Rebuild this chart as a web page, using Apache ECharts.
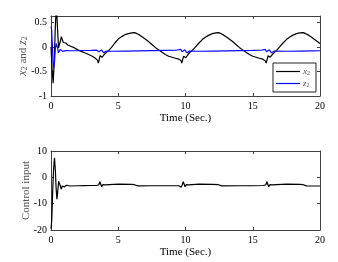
<!DOCTYPE html>
<html>
<head>
<meta charset="utf-8">
<script src="https://cdn.jsdelivr.net/npm/echarts@6/dist/echarts.min.js"></script>
<style>html,body{margin:0;padding:0;background:#fff;}#c{width:338px;height:262px;}</style>
</head>
<body>
<div id="c"></div>
<script>
// ---- data ----
var xTicks = [0, 5, 10, 15, 20];
var y1Ticks = [-1, -0.5, 0, 0.5];
var y2Ticks = [-20, -10, 0, 10];

var x2T = [0,0.08,0.16,0.24,0.32,0.4,0.48,0.56,0.62,0.7,0.77,0.85,0.92,1.0,1.1,1.25,1.5,1.75,2.0,2.25,2.5,2.75,3.0,3.25,3.45,3.52,3.58,3.65,3.72,3.8,3.9,4.0,4.1,4.3,4.5,4.75,5.0,5.25,5.5,5.75,6.0,6.2,6.4,6.6,6.8,7.0,7.25,7.5,7.75,8.0,8.25,8.5,8.75,9.0,9.25,9.5,9.65,9.72,9.78,9.86,9.94,10.02,10.12,10.22,10.35,10.5,10.75,11.0,11.25,11.5,11.75,12.0,12.25,12.45,12.65,12.85,13.05,13.25,13.5,13.75,14.0,14.25,14.5,14.75,15.0,15.25,15.5,15.75,15.92,16.0,16.06,16.14,16.22,16.3,16.4,16.5,16.65,16.8,17.0,17.25,17.5,17.75,18.0,18.25,18.5,18.75,18.95,19.15,19.35,19.55,19.8,20.0];
var x2V = [0,-0.45,-0.74,-0.3,0.4,0.85,0.4,-0.02,-0.05,0.12,0.21,0.14,0.09,0.11,0.08,0.04,0.01,-0.02,-0.06,-0.09,-0.12,-0.15,-0.18,-0.22,-0.27,-0.33,-0.3,-0.18,-0.16,-0.21,-0.19,-0.14,-0.12,-0.07,-0.01,0.08,0.16,0.21,0.25,0.27,0.285,0.29,0.27,0.24,0.2,0.16,0.11,0.05,-0.01,-0.06,-0.11,-0.155,-0.19,-0.21,-0.23,-0.25,-0.27,-0.33,-0.31,-0.19,-0.17,-0.22,-0.19,-0.14,-0.11,-0.07,0.0,0.08,0.15,0.2,0.24,0.27,0.285,0.29,0.27,0.24,0.2,0.16,0.11,0.05,-0.01,-0.06,-0.11,-0.155,-0.19,-0.21,-0.23,-0.25,-0.28,-0.33,-0.3,-0.18,-0.16,-0.21,-0.19,-0.14,-0.1,-0.06,0.0,0.08,0.15,0.2,0.24,0.27,0.285,0.29,0.27,0.24,0.2,0.16,0.11,0.07];

var z2T = [0,0.05,0.1,0.15,0.2,0.26,0.32,0.38,0.43,0.49,0.55,0.62,0.7,0.78,0.86,0.95,1.1,1.5,2,2.5,3,3.4,3.48,3.56,3.63,3.7,3.76,3.84,3.92,4.0,4.1,4.5,5.5,6.5,7.5,8.5,9.3,9.66,9.74,9.81,9.88,9.95,10.03,10.11,10.19,10.3,11,12,13,14,15,15.6,15.94,16.02,16.09,16.16,16.23,16.31,16.39,16.47,16.6,17.5,18.5,19.5,20];
var z2V = [0.42,0.35,0.05,-0.3,-0.43,-0.3,-0.05,0.07,0.08,-0.02,-0.12,-0.1,-0.05,-0.07,-0.09,-0.08,-0.075,-0.078,-0.076,-0.073,-0.07,-0.066,-0.05,-0.1,-0.13,-0.1,-0.06,-0.09,-0.12,-0.1,-0.085,-0.088,-0.084,-0.08,-0.076,-0.072,-0.068,-0.05,-0.1,-0.13,-0.1,-0.06,-0.09,-0.12,-0.1,-0.085,-0.088,-0.084,-0.08,-0.076,-0.072,-0.068,-0.05,-0.1,-0.13,-0.1,-0.06,-0.09,-0.12,-0.1,-0.085,-0.088,-0.084,-0.08,-0.078];

var uT = [0,0.06,0.12,0.19,0.26,0.32,0.38,0.44,0.5,0.57,0.62,0.69,0.76,0.84,0.92,1.0,1.08,1.16,1.25,1.4,2,2.5,3,3.4,3.48,3.56,3.63,3.7,3.77,3.85,3.93,4.02,4.12,5,6,6.2,6.3,6.45,7.5,8.5,9.5,9.6,9.68,9.76,9.83,9.9,9.97,10.05,10.13,10.22,10.32,11,12,12.45,12.55,12.7,14,15,15.8,15.9,15.98,16.05,16.12,16.19,16.27,16.35,16.44,16.54,17.5,18.5,18.75,18.85,19.0,20];
var uV = [-19.5,-16,-6,3,7.4,3,-4,-8.3,-5.5,-1.5,-1.2,-3.2,-4.5,-3.3,-2.6,-3.6,-3.7,-3.0,-3.3,-3.3,-3.2,-3.15,-3.1,-3.1,-3.8,-2.8,-1.7,-2.6,-3.6,-2.8,-2.3,-2.9,-2.6,-2.6,-2.7,-2.8,-3.3,-3.25,-3.2,-3.2,-3.2,-3.1,-3.8,-2.8,-1.7,-2.6,-3.6,-2.8,-2.3,-2.9,-2.6,-2.6,-2.7,-2.8,-3.3,-3.25,-3.2,-3.2,-3.1,-3.8,-2.8,-1.7,-2.6,-3.6,-2.8,-2.3,-2.9,-2.6,-2.6,-2.7,-2.8,-3.3,-3.25,-3.3];

function pairs(t, v) { return t.map(function (x, i) { return [x, v[i]]; }); }

var FONT = 'Liberation Serif';
var AX = '#404040';
function xAx(gi, pos, show) {
  return {
    type: 'value', gridIndex: gi, position: pos, min: 0, max: 20, interval: 5,
    axisLine: { show: true, onZero: false, lineStyle: { color: AX, width: 1 } },
    axisTick: { show: true, inside: true, length: 3, lineStyle: { color: AX } },
    axisLabel: { show: show, color: '#000', fontFamily: FONT, fontSize: 10, margin: 5 },
    splitLine: { show: false },
    name: show ? 'Time (Sec.)' : '', nameLocation: 'middle', nameGap: 17, nameMoveOverlap: false,
    nameTextStyle: { color: '#000', fontFamily: FONT, fontSize: 11 }
  };
}
function yAx(gi, pos, show, mn, mx, iv, name, gap) {
  return {
    type: 'value', gridIndex: gi, position: pos, min: mn, max: mx, interval: iv,
    axisLine: { show: true, onZero: false, lineStyle: { color: AX, width: 1 } },
    axisTick: { show: true, inside: true, length: 3, lineStyle: { color: AX } },
    axisLabel: { show: show, color: '#000', fontFamily: FONT, fontSize: 10, margin: 4, showMaxLabel: mx === 10 },
    splitLine: { show: false },
    name: show ? name : '', nameLocation: 'middle', nameGap: gap, nameMoveOverlap: false,
    nameTextStyle: {
      color: '#555', fontFamily: FONT, fontSize: 11,
      rich: {
        i: { fontStyle: 'italic', fontFamily: FONT, fontSize: 12, color: '#555' },
        s: { fontFamily: FONT, fontSize: 8, color: '#555', verticalAlign: 'bottom', padding: [4, 0, 0, 0] },
        n: { fontFamily: FONT, fontSize: 11, color: '#555' }
      }
    }
  };
}

var chart = echarts.init(document.getElementById('c'), null, { renderer: 'canvas' });
chart.setOption({
  animation: false,
  backgroundColor: '#fff',
  grid: [
    { left: 51, right: 18, top: 16, height: 80 },
    { left: 51, right: 18, top: 151, height: 79 }
  ],
  xAxis: [xAx(0, 'bottom', true), xAx(0, 'top', false), xAx(1, 'bottom', true), xAx(1, 'top', false)],
  yAxis: [
    yAx(0, 'left', true, -1, 0.63, 0.5, '{i|x}{s|2}{n| and }{i|z}{s|2}', 22),
    yAx(0, 'right', false, -1, 0.63, 0.5, '', 0),
    yAx(1, 'left', true, -20, 10, 10, 'Control input', 19),
    yAx(1, 'right', false, -20, 10, 10, '', 0)
  ],
  legend: {
    data: ['x2', 'z2'], orient: 'vertical', left: 273, top: 63,
    icon: 'rect', itemWidth: 24, itemHeight: 1.2, itemGap: 3,
    padding: [4, 6, 4, 3],
    borderColor: '#222', borderWidth: 1, backgroundColor: '#fff', borderRadius: 0,
    formatter: function (n) { return n === 'x2' ? '{i|x}{s|2}' : '{i|z}{s|2}'; },
    textStyle: {
      color: '#555', fontFamily: FONT, fontSize: 9, padding: [0, 0, 0, -2],
      rich: {
        i: { fontStyle: 'italic', fontFamily: FONT, fontSize: 9, color: '#555' },
        s: { fontFamily: FONT, fontSize: 6, color: '#555', verticalAlign: 'bottom', padding: [3, 0, 0, 0] }
      }
    }
  },
  series: [
    { name: 'x2', type: 'line', xAxisIndex: 0, yAxisIndex: 0, data: pairs(x2T, x2V), symbol: 'none', lineStyle: { color: '#000', width: 1.2 }, itemStyle: { color: '#000' }, clip: true, z: 3 },
    { name: 'z2', type: 'line', xAxisIndex: 0, yAxisIndex: 0, data: pairs(z2T, z2V), symbol: 'none', lineStyle: { color: '#0a0aff', width: 1.2 }, itemStyle: { color: '#0a0aff' }, clip: true, z: 4 },
    { name: 'u', type: 'line', xAxisIndex: 2, yAxisIndex: 2, data: pairs(uT, uV), symbol: 'none', lineStyle: { color: '#000', width: 1.2 }, itemStyle: { color: '#000' }, clip: true }
  ]
});
</script>
</body>
</html>
